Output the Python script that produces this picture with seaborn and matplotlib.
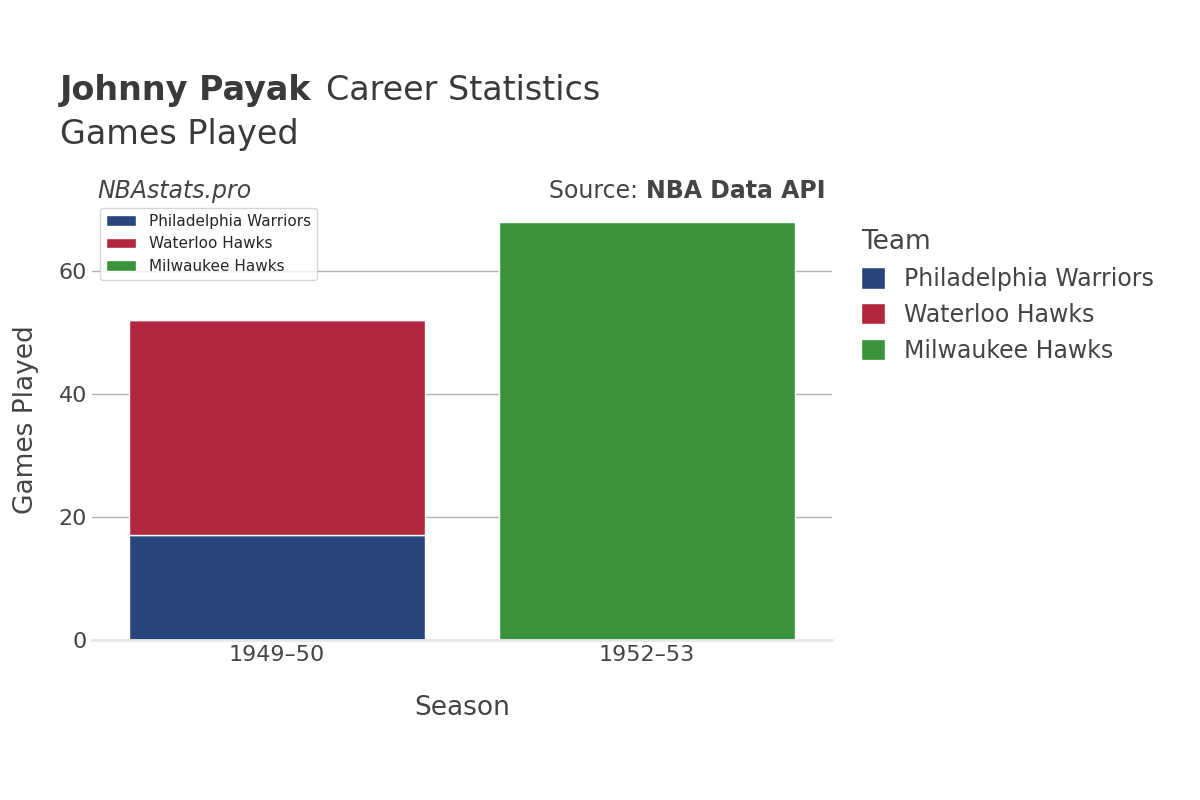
import pandas as pd
import matplotlib.pyplot as plt
import seaborn as sns

seasons = ["1949–50", "1952–53"]
teams = ["Philadelphia Warriors", "Waterloo Hawks", "Milwaukee Hawks"]
colors = ["#1b428a", "#c8102e", "#2ca02c"]
games = {
    "Philadelphia Warriors": [17, 0],
    "Waterloo Hawks": [35, 0],
    "Milwaukee Hawks": [0, 68],
}

sns.set_theme(style="white")
plt.rcParams['font.family'] = ['DejaVu Sans']

fig = plt.figure(figsize=(12, 8), dpi=100)
ax = fig.add_axes([0.0767, 0.2, 0.6166, 0.55])

bottom = [0, 0]
for team, col in zip(teams, colors):
    df = pd.DataFrame({"Season": seasons, "Games": games[team]})
    sns.barplot(data=df, x="Season", y="Games", color=col, width=0.8,
                bottom=bottom, ax=ax, label=team, edgecolor="white", linewidth=1)
    bottom = [b + v for b, v in zip(bottom, games[team])]

ax.set_xlim(-0.5, 1.5)
ax.set_ylim(0, 71.5)
ax.set_yticks([0, 20, 40, 60])
ax.yaxis.grid(True, color="#b0b0b0", linewidth=1)
ax.set_axisbelow(True)
for s in ["top", "right", "left"]:
    ax.spines[s].set_visible(False)
ax.spines["bottom"].set_color("#e8e8e8")
ax.spines["bottom"].set_linewidth(2)
ax.tick_params(axis="both", labelsize=16, colors="#444444", length=0)
ax.set_xlabel("Season", fontsize=19, color="#444444", labelpad=22)
ax.set_ylabel("Games Played", fontsize=19, color="#444444", labelpad=14)

fig.text(0.05, 0.875, "Johnny Payak", fontsize=24, weight="bold", color="#3a3a3a")
fig.text(0.272, 0.875, "Career Statistics", fontsize=24, color="#3a3a3a")
fig.text(0.05, 0.82, "Games Played", fontsize=24, color="#3a3a3a")
fig.text(0.081, 0.752, "NBAstats.pro", fontsize=17, style="italic", color="#444444")
fig.text(0.69, 0.752, "Source: ", fontsize=17, color="#444444", ha="right")
fig.text(0.69, 0.752, "NBA Data API", fontsize=17, weight="bold", color="#444444", ha="right")
# redo source text as two parts aligned to right edge
fig.texts[-2].set_position((0.538, 0.752)); fig.texts[-2].set_ha("right")
fig.texts[-1].set_position((0.538, 0.752)); fig.texts[-1].set_ha("left")

handles, labels = ax.get_legend_handles_labels()
leg = fig.legend(handles, labels, title="Team", loc="upper left",
                 bbox_to_anchor=(0.7, 0.74), frameon=False, fontsize=17,
                 title_fontsize=19, handlelength=1, handleheight=1)
leg._legend_box.align = "left"
for t in leg.get_texts():
    t.set_color("#444444")
leg.get_title().set_color("#444444")

fig.savefig("out.png", dpi=100)
